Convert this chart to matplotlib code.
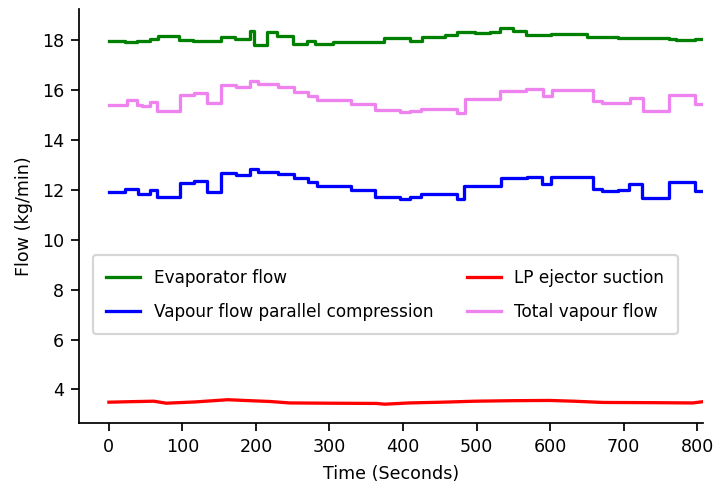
import numpy as np
import matplotlib
matplotlib.use("Agg")
from matplotlib import pyplot as plt

# step series: time at which each level starts, and the level
evap_t = [0, 21.8, 37.7, 55.8, 67, 95, 115, 153, 171, 192, 198, 214.6, 229, 251,
          269, 280, 305, 374.6, 409.5, 425.4, 457, 473, 498, 518, 532, 550, 567,
          601, 650, 692.5, 762, 770.6, 797]
evap_v = [17.96, 17.92, 17.97, 18.05, 18.16, 18.0, 17.96, 18.12, 18.05, 18.35,
          17.79, 18.32, 18.16, 17.85, 17.95, 17.85, 17.92, 18.07, 17.98, 18.14,
          18.22, 18.32, 18.28, 18.33, 18.48, 18.35, 18.22, 18.26, 18.13, 18.08,
          18.04, 17.99, 18.03]

par_t = [0, 21.8, 39, 55.8, 65.7, 96.6, 116, 133, 153, 172.5, 192.5, 203, 230,
         252, 271, 282.6, 329, 362, 396, 409.5, 425, 473, 483, 533, 568, 589,
         601, 658, 670, 693, 708, 725.6, 762, 797]
par_v = [11.91, 12.04, 11.85, 12.0, 11.71, 12.27, 12.35, 11.92, 12.67, 12.59,
         12.83, 12.73, 12.64, 12.47, 12.31, 12.17, 12.0, 11.73, 11.65, 11.73,
         11.82, 11.64, 12.16, 12.47, 12.53, 12.23, 12.5, 12.04, 11.97, 12.0,
         12.23, 11.69, 12.33, 11.96]

tot_t = [0, 24.5, 38, 45, 55.8, 65.7, 96.6, 116, 133, 153, 172.5, 192.5, 203,
         230, 252, 271, 282.6, 329, 362, 396, 409.5, 425, 473, 484, 532, 567,
         591, 602, 658, 670, 709, 726, 762, 797]
tot_v = [15.39, 15.59, 15.41, 15.36, 15.52, 15.17, 15.79, 15.88, 15.48, 16.19,
         16.12, 16.35, 16.25, 16.12, 15.92, 15.76, 15.59, 15.43, 15.19, 15.1,
         15.16, 15.24, 15.07, 15.64, 15.97, 16.03, 15.76, 16.0, 15.56, 15.47,
         15.67, 15.17, 15.8, 15.44]

lp_t = [0, 28, 61, 78, 117, 162, 184, 218, 246, 296, 364, 375, 408, 453, 498,
        548, 599, 632, 672, 744, 794, 808]
lp_v = [3.49, 3.51, 3.53, 3.45, 3.50, 3.59, 3.56, 3.52, 3.46, 3.45, 3.44, 3.41,
        3.46, 3.49, 3.53, 3.55, 3.56, 3.53, 3.48, 3.47, 3.46, 3.51]

t_end = 808


def steps(t, v):
    # repeat the last level so the final step runs to t_end
    return np.append(t, t_end), np.append(v, v[-1])


plt.rcParams["font.size"] = 8
fig = plt.figure(figsize=(725 / 157, 490 / 157), dpi=157)
ax = fig.add_axes([79.2 / 725, 67 / 490, 623.8 / 725, 413.75 / 490])

ax.step(*steps(evap_t, evap_v), where="post", color="green", label="Evaporator flow")
ax.step(*steps(par_t, par_v), where="post", color="blue",
        label="Vapour flow parallel compression")
ax.plot(lp_t, lp_v, color="red", label="LP ejector suction")
ax.step(*steps(tot_t, tot_v), where="post", color="violet", label="Total vapour flow")

ax.set_xlim(-40.4, 808)
ax.spines["top"].set_visible(False)
ax.spines["right"].set_visible(False)
ax.set_xlabel("Time (Seconds)")
ax.set_ylabel("Flow (kg/min)")
ax.legend(ncol=2, loc="upper left", bbox_to_anchor=(0.022, 0.406), borderaxespad=0,
          borderpad=0.8, labelspacing=0.95, fontsize=7.75)

fig.savefig("out.png", dpi=157)
